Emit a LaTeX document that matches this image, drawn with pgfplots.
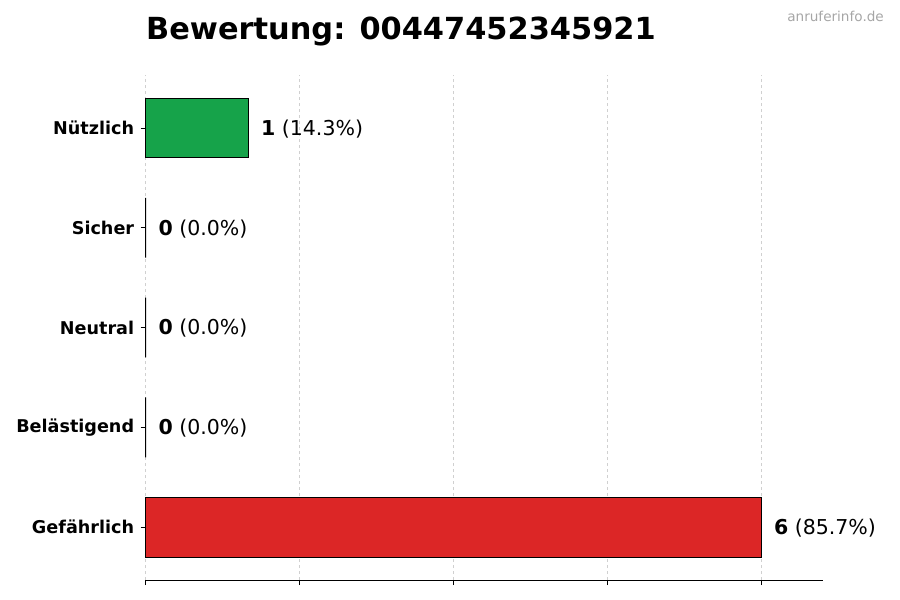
\documentclass[border=0pt]{standalone}
\usepackage{pgfplots}
\pgfplotsset{compat=1.18}
\usepackage{fontspec}
\setmainfont{DejaVu Sans}
\definecolor{gutgreen}{HTML}{16A34A}
\definecolor{badred}{HTML}{DC2626}
\definecolor{gridgray}{HTML}{D0D0D0}
\begin{document}
\begin{tikzpicture}[x=1pt,y=1pt]
\path[use as bounding box] (0,0) rectangle (900,600);
% title and watermark
\node[anchor=base west, inner sep=0pt, font=\fontsize{30.4}{36}\selectfont\bfseries] at (146,560) {Bewertung: 00447452345921};
\node[anchor=base east, inner sep=0pt, text=black!35, font=\fontsize{13.6}{16}\selectfont] at (884,578) {anruferinfo.de};
\begin{axis}[
	at={(142,20)}, anchor=south west,
	scale only axis,
	width=677pt, height=505pt,
	xbar, bar width=0.6, bar shift=0pt,
	xmin=0, xmax=6.6,
	ymin=-0.53, ymax=4.53,
	xtick={0,1.5,3,4.5,6},
	xticklabels={},
	ytick={0,1,2,3,4},
	yticklabels={Gefährlich,Belästigend,Neutral,Sicher,Nützlich},
	yticklabel style={font=\fontsize{17.6}{20}\selectfont\bfseries, xshift=-3pt},
	axis x line*=bottom,
	axis y line*=left,
	y axis line style={draw=none},
	tick align=outside,
	major tick length=5pt,
	tick style={black, line width=0.8pt},
	x axis line style={line width=0.8pt},
	xmajorgrids=true,
	major grid style={gridgray, dashed, line width=0.6pt},
	point meta=explicit symbolic,
	nodes near coords,
	every node near coord/.append style={anchor=west, inner sep=0pt, xshift=12.5pt, yshift=-1pt, font=\fontsize{20.5}{24}\selectfont},
	clip=false,
]
	\addplot[draw=black, fill=badred, line width=0.8pt] coordinates {(6,0) [\textbf{6} (85.7\%)]};
	\addplot[draw=black, fill=black, line width=0.8pt] coordinates {(0,1) [\textbf{0} (0.0\%)]};
	\addplot[draw=black, fill=black, line width=0.8pt] coordinates {(0,2) [\textbf{0} (0.0\%)]};
	\addplot[draw=black, fill=black, line width=0.8pt] coordinates {(0,3) [\textbf{0} (0.0\%)]};
	\addplot[draw=black, fill=gutgreen, line width=0.8pt] coordinates {(1,4) [\textbf{1} (14.3\%)]};
\end{axis}
\end{tikzpicture}
\end{document}
